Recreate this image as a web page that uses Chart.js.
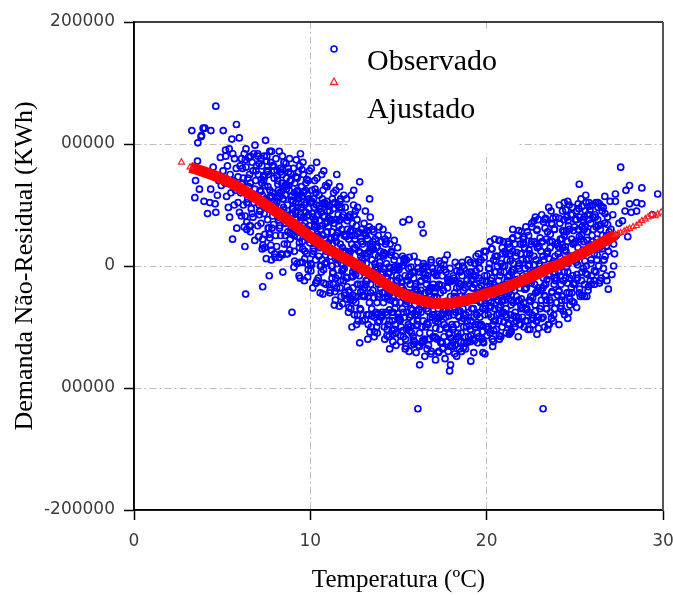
<!DOCTYPE html>
<html lang="pt">
<head>
    <meta charset="UTF-8">
    <title>Demanda Não-Residual vs Temperatura</title>
    <script src="https://cdn.jsdelivr.net/npm/chart.js@4.4.8/dist/chart.umd.min.js"></script>
    <style>
        html, body { margin: 0; padding: 0; background: #fff; }
        #grafico { display: block; }
    </style>
</head>
<body>

<canvas id="grafico" width="673" height="595"></canvas>

<script>

    // valores em milhares de kWh, [temperatura, demanda]
    const observado = [
        [3.28,111],[3.62,101],[3.83,107],[3.60,86],[3.49,70],[3.71,63],[3.45,56],[3.97,53],[3.92,113],[3.80,106],
        [4.02,113],[4.36,111],[4.30,52],[4.60,51],[4.17,43],[4.64,44],[4.73,58],[4.49,81],[4.64,131],[4.90,89],[4.35,63],[4.80,70],[4.55,75],[4.95,66],
        [5.06,111],[5.81,116],[5.55,104],[5.97,105],[5.19,95],[5.40,96],[5.20,90],[5.59,22],[5.83,31],[5.90,52],[5.98,44],[5.30,82],[5.45,75],[5.70,88],[5.15,68],[5.50,60],[5.65,70],[5.35,48],[5.80,80],[5.25,57],[5.75,62],[5.05,78],[5.60,92],[5.90,73],[5.42,40],[5.68,50],
        [6.35,96],[6.80,92],[6.86,99],[6.35,81],[6.75,78],[6.20,50],[6.30,41],[6.29,16],[6.40,30],[6.60,28],[6.40,36],[6.60,33],[6.33,-23],[6.10,88],[6.20,72],[6.50,65],[6.70,85],[6.90,70],[6.05,60],[6.45,55],[6.55,75],[6.95,58],[6.15,80],[6.65,47],[6.85,63],[6.25,92],[6.50,89],[6.75,40],[6.95,82],[6.10,67],[6.60,68],[6.80,52],
        [6.02,82],[6.09,41],[6.16,68],[6.25,32],[6.31,87],[6.40,52],[6.46,72],[6.55,33],[6.61,90],[6.70,43],[6.76,59],[6.85,21],[6.92,78],
        [7.46,103],[7.20,88],[7.70,94],[7.80,94],[7.30,-17],[7.67,-8],[7.50,6],[7.40,15],[7.80,13],[7.30,22],[7.70,23],[7.20,35],[7.05,75],[7.15,62],[7.25,82],[7.35,70],[7.45,55],[7.55,78],[7.60,65],[7.65,48],[7.75,85],[7.85,60],[7.95,72],[7.10,50],[7.38,90],[7.58,38],[7.88,45],[7.92,82],[7.12,45],[7.42,66],[7.52,86],[7.72,57],[7.82,31],[7.28,58],[7.62,75],[7.98,53],[7.02,92],
        [7.03,90],[7.11,42],[7.19,61],[7.27,14],[7.34,74],[7.42,26],[7.49,53],[7.57,77],[7.64,31],[7.71,62],[7.79,5],[7.86,41],[7.94,78],[7.07,24],[7.23,71],[7.38,43],[7.53,90],[7.68,26],[7.83,57],[7.97,10],
        [7.02,33],[7.09,84],[7.16,45],[7.25,68],[7.31,17],[7.40,73],[7.46,52],[7.55,78],[7.61,31],[7.70,56],[7.76,17],[7.85,82],[7.92,34],
        [8.00,7],[8.24,94],[8.05,88],[8.15,70],[8.25,60],[8.30,80],[8.35,45],[8.40,75],[8.45,55],[8.50,85],[8.55,65],[8.60,35],[8.65,72],[8.70,50],[8.75,80],[8.80,62],[8.85,42],[8.90,70],[8.95,57],[8.96,-38],[8.10,52],[8.20,40],[8.12,78],[8.32,25],[8.42,90],[8.52,18],[8.62,84],[8.72,28],[8.82,88],[8.92,32],[8.18,62],[8.38,68],[8.48,48],[8.58,58],[8.68,40],[8.78,66],[8.88,76],[8.98,47],[8.28,33],[8.44,-5],[8.66,10],[8.86,22],
        [8.03,25],[8.11,74],[8.19,38],[8.27,57],[8.34,10],[8.42,79],[8.49,46],[8.57,25],[8.64,63],[8.71,10],[8.79,39],[8.86,70],[8.94,26],[8.07,56],[8.23,7],[8.38,61],[8.53,38],[8.68,66],[8.83,13],[8.97,43],
        [8.02,50],[8.09,16],[8.16,67],[8.25,31],[8.31,77],[8.40,9],[8.46,55],[8.55,35],[8.61,67],[8.70,18],[8.76,77],[8.85,27],[8.92,54],
        [9.20,87],[9.05,80],[9.10,60],[9.15,45],[9.25,72],[9.30,30],[9.35,55],[9.40,82],[9.45,40],[9.50,65],[9.55,20],[9.60,75],[9.65,50],[9.70,35],[9.75,68],[9.80,10],[9.85,58],[9.90,42],[9.95,78],[9.08,25],[9.18,52],[9.28,62],[9.38,15],[9.48,48],[9.58,85],[9.68,28],[9.78,52],[9.88,70],[9.98,22],[9.12,68],[9.22,38],[9.32,77],[9.42,3],[9.52,57],[9.62,40],[9.72,62],[9.82,30],[9.92,55],[9.02,42],[9.36,-8],[9.66,-12],[9.88,-3],[9.44,92],[9.76,44],[9.26,48],[9.56,33],
        [9.03,47],[9.11,4],[9.19,73],[9.27,24],[9.34,56],[9.42,-10],[9.49,48],[9.57,14],[9.64,61],[9.71,25],[9.79,71],[9.86,1],[9.94,33],[9.07,-1],[9.23,61],[9.38,19],[9.53,79],[9.68,6],[9.83,41],[9.97,19],
        [9.02,53],[9.09,12],[9.16,38],[9.25,2],[9.31,58],[9.40,23],[9.46,42],[9.55,3],[9.61,60],[9.70,12],[9.76,29],[9.85,-9],[9.92,47],
        [10.05,80],[10.10,62],[10.15,40],[10.20,20],[10.25,70],[10.30,5],[10.35,50],[10.40,32],[10.45,-10],[10.50,58],[10.55,15],[10.60,44],[10.65,75],[10.70,25],[10.75,-3],[10.80,52],[10.85,35],[10.90,12],[10.95,65],[10.08,28],[10.18,55],[10.28,38],[10.38,72],[10.48,8],[10.58,30],[10.68,55],[10.78,40],[10.88,-15],[10.98,45],[10.12,10],[10.22,48],[10.32,60],[10.42,18],[10.52,37],[10.62,-5],[10.72,62],[10.82,22],[10.92,50],[10.02,52],[10.14,-18],[10.36,85],[10.56,-22],[10.76,78],[10.96,28],[10.46,42],[10.66,5],[10.86,66],[10.26,34],[10.44,24],[10.84,2],
        [10.03,-4],[10.11,43],[10.19,12],[10.27,63],[10.34,-14],[10.42,26],[10.49,49],[10.57,0],[10.64,33],[10.71,-23],[10.79,41],[10.86,9],[10.94,53],[10.07,1],[10.23,32],[10.38,-12],[10.53,23],[10.68,51],[10.83,2],[10.97,36],
        [10.02,2],[10.09,53],[10.16,14],[10.25,37],[10.31,-14],[10.40,42],[10.46,21],[10.55,47],[10.61,0],[10.70,25],[10.76,-14],[10.85,51],[10.92,3],
        [11.05,68],[11.10,45],[11.15,22],[11.20,0],[11.25,55],[11.30,-15],[11.35,35],[11.40,10],[11.45,62],[11.50,75],[11.55,28],[11.60,-8],[11.65,48],[11.70,18],[11.75,-25],[11.80,40],[11.85,5],[11.90,58],[11.95,25],[11.08,15],[11.18,38],[11.28,-5],[11.38,52],[11.48,20],[11.58,42],[11.68,-18],[11.78,30],[11.88,-12],[11.98,48],[11.12,-20],[11.22,28],[11.32,60],[11.42,-28],[11.52,8],[11.62,33],[11.72,55],[11.82,15],[11.92,-2],[11.02,32],[11.16,8],[11.36,-32],[11.56,50],[11.76,2],[11.96,-22],[11.46,38],[11.66,65],[11.86,42],[11.26,18],[11.44,-10],[11.94,12],
        [11.03,39],[11.11,-22],[11.19,23],[11.27,-6],[11.34,51],[11.42,6],[11.49,-18],[11.57,27],[11.64,-33],[11.71,38],[11.79,-4],[11.86,12],[11.94,-24],[11.07,49],[11.23,-10],[11.38,23],[11.53,2],[11.68,53],[11.83,-31],[11.97,26],
        [11.02,19],[11.09,-15],[11.16,37],[11.25,0],[11.31,47],[11.40,-21],[11.46,25],[11.55,5],[11.61,37],[11.70,-12],[11.76,48],[11.85,-3],[11.92,25],
        [12.05,55],[12.10,30],[12.15,5],[12.20,-20],[12.25,42],[12.30,-35],[12.35,18],[12.40,-8],[12.45,50],[12.50,-40],[12.55,25],[12.60,0],[12.65,38],[12.70,-25],[12.75,12],[12.80,69],[12.80,-63],[12.85,-15],[12.90,30],[12.95,-45],[12.08,-10],[12.18,22],[12.28,-28],[12.38,35],[12.48,-2],[12.58,-30],[12.68,48],[12.78,-8],[12.88,20],[12.98,-20],[12.12,40],[12.22,8],[12.32,58],[12.42,-18],[12.52,15],[12.62,-48],[12.72,28],[12.82,-35],[12.92,5],[12.02,12],[12.16,-38],[12.36,-50],[12.56,45],[12.76,-2],[12.96,18],[12.46,62],[12.66,-15],[12.86,8],[12.26,28],[12.44,-28],
        [12.03,-9],[12.11,37],[12.19,-34],[12.27,12],[12.34,25],[12.42,-24],[12.49,42],[12.57,-7],[12.64,17],[12.71,-45],[12.79,27],[12.86,-21],[12.94,2],[12.07,-27],[12.23,40],[12.38,-9],[12.53,22],[12.68,-40],[12.83,11],[12.97,-24],
        [12.02,24],[12.09,-17],[12.16,10],[12.25,-26],[12.31,29],[12.40,-5],[12.46,14],[12.55,-25],[12.61,33],[12.70,-15],[12.76,2],[12.85,-36],[12.92,20],
        [13.05,35],[13.10,10],[13.15,-15],[13.20,-40],[13.25,22],[13.30,-5],[13.35,-30],[13.40,40],[13.45,-50],[13.50,5],[13.55,-20],[13.60,28],[13.65,-42],[13.70,-8],[13.75,15],[13.80,-55],[13.85,-25],[13.90,32],[13.95,0],[13.08,-25],[13.18,2],[13.28,-48],[13.38,18],[13.48,-35],[13.58,-10],[13.68,22],[13.78,-30],[13.88,8],[13.98,-18],[13.12,45],[13.22,-12],[13.32,12],[13.42,-22],[13.52,30],[13.62,-58],[13.72,-38],[13.82,-2],[13.92,-45],[13.02,-5],[13.26,-60],[13.46,15],[13.66,2],[13.86,-15],[13.36,55],[13.76,-50],[13.16,25],
        [13.03,27],[13.11,-44],[13.19,8],[13.27,-25],[13.34,32],[13.42,-15],[13.49,-41],[13.57,14],[13.64,-54],[13.71,-3],[13.79,16],[13.86,-39],[13.94,3],[13.07,-18],[13.23,29],[13.38,-54],[13.53,-6],[13.68,9],[13.83,-46],[13.97,12],
        [13.02,-25],[13.09,27],[13.16,-12],[13.25,10],[13.31,-40],[13.40,16],[13.46,-5],[13.55,20],[13.61,-26],[13.70,-1],[13.76,-40],[13.85,25],[13.92,-23],
        [14.05,20],[14.10,-5],[14.15,-30],[14.20,-50],[14.25,10],[14.30,-15],[14.35,-40],[14.40,25],[14.45,-58],[14.50,-68],[14.50,-5],[14.55,-28],[14.60,12],[14.65,-45],[14.70,-18],[14.75,5],[14.80,-35],[14.85,-55],[14.90,-8],[14.95,15],[14.08,-22],[14.18,-2],[14.28,-38],[14.38,-10],[14.48,-45],[14.58,-20],[14.68,-62],[14.78,-30],[14.88,-12],[14.98,-42],[14.12,30],[14.22,-60],[14.32,2],[14.42,-25],[14.52,18],[14.62,-38],[14.72,-3],[14.82,-48],[14.92,-22],[14.02,-40],[14.16,8],[14.36,-52],[14.56,-12],[14.76,-52],[14.96,0],[14.66,-25],
        [14.03,-42],[14.11,9],[14.19,-22],[14.27,18],[14.34,-57],[14.42,-6],[14.49,-36],[14.57,9],[14.64,-53],[14.71,-16],[14.79,-1],[14.86,-65],[14.94,-12],[14.07,-38],[14.23,22],[14.38,-27],[14.53,-2],[14.68,-56],[14.83,8],[14.97,-39],
        [14.02,-7],[14.09,-41],[14.16,11],[14.25,-26],[14.31,20],[14.40,-48],[14.46,-1],[14.55,-22],[14.61,11],[14.70,-38],[14.76,21],[14.85,-30],[14.92,-2],
        [15.25,36],[15.60,38],[15.60,-70],[15.05,-10],[15.10,-30],[15.15,-50],[15.20,0],[15.30,-20],[15.35,-42],[15.40,-60],[15.45,5],[15.50,-25],[15.55,-48],[15.65,-15],[15.70,-35],[15.75,-55],[15.80,-5],[15.85,-28],[15.90,-62],[15.95,-40],[15.08,-45],[15.18,-18],[15.28,-58],[15.38,-8],[15.48,-38],[15.58,-2],[15.68,-50],[15.78,-22],[15.88,8],[15.98,-15],[15.12,-62],[15.22,-35],[15.32,6],[15.42,-28],[15.52,-12],[15.62,-42],[15.72,-65],[15.82,-45],[15.92,-32],[15.02,-25],[15.46,-52],[15.86,-10],
        [15.03,-1],[15.11,-57],[15.19,-17],[15.27,-38],[15.34,5],[15.42,-66],[15.49,-29],[15.57,-9],[15.64,-53],[15.71,-1],[15.79,-36],[15.86,-64],[15.94,-17],[15.07,-43],[15.23,8],[15.38,-68],[15.53,-22],[15.68,-7],[15.83,-58],[15.97,-19],
        [15.02,-3],[15.09,-44],[15.16,-17],[15.25,-53],[15.31,3],[15.40,-31],[15.46,-12],[15.55,-50],[15.61,7],[15.70,-40],[15.76,-24],[15.85,-61],[15.92,-5],
        [16.10,-117],[16.30,34],[16.40,27],[16.20,-81],[16.00,-71],[16.05,-20],[16.10,-40],[16.15,-5],[16.20,-55],[16.25,-30],[16.30,-12],[16.35,-62],[16.40,-45],[16.45,0],[16.50,-22],[16.55,-50],[16.60,-35],[16.65,-8],[16.70,-65],[16.75,-28],[16.80,-42],[16.85,3],[16.90,-18],[16.95,-58],[16.08,-48],[16.18,-25],[16.28,-38],[16.38,-2],[16.48,-60],[16.58,-15],[16.68,-48],[16.78,-55],[16.88,-32],[16.98,-5],[16.12,-65],[16.32,-50],[16.52,-10],[16.72,-20],[16.92,-40],[16.42,-32],[16.62,-68],[16.82,-25],
        [16.03,-37],[16.11,-2],[16.19,-66],[16.27,-20],[16.34,-50],[16.42,2],[16.49,-74],[16.57,-29],[16.64,-11],[16.71,-60],[16.79,-18],[16.86,-70],[16.94,-2],[16.07,-45],[16.23,-23],[16.38,-61],[16.53,-7],[16.68,-37],[16.83,-72],[16.97,-15],
        [16.02,-49],[16.09,3],[16.16,-36],[16.25,-13],[16.31,-63],[16.40,-6],[16.46,-27],[16.55,-1],[16.61,-47],[16.70,-21],[16.76,-60],[16.85,5],[16.92,-42],
        [17.10,-77],[17.90,-86],[17.95,-81],[17.05,-25],[17.10,-45],[17.15,-8],[17.20,-60],[17.25,-35],[17.30,-15],[17.35,-52],[17.40,2],[17.45,-40],[17.50,-68],[17.55,-20],[17.60,-48],[17.65,-30],[17.70,-5],[17.75,-62],[17.80,-38],[17.85,-12],[17.90,-55],[17.95,-25],[17.08,-58],[17.18,-30],[17.28,-70],[17.38,-22],[17.48,-8],[17.58,-58],[17.68,-42],[17.78,-18],[17.88,-35],[17.98,-65],[17.12,-18],[17.22,-2],[17.32,-42],[17.42,-62],[17.52,-32],[17.62,5],[17.72,-50],[17.82,-70],[17.92,-2],[17.02,-40],
        [17.03,-6],[17.11,-51],[17.19,-26],[17.27,-71],[17.34,-16],[17.42,-41],[17.49,-63],[17.57,1],[17.64,-76],[17.71,-29],[17.79,-11],[17.86,-56],[17.94,-66],[17.07,-21],[17.23,-46],[17.38,-3],[17.53,-67],[17.68,-36],[17.83,-13],[17.97,-59],
        [17.02,-26],[17.09,-59],[17.16,-7],[17.25,-43],[17.31,4],[17.40,-63],[17.46,-16],[17.55,-36],[17.61,-3],[17.70,-51],[17.76,9],[17.85,-41],[17.92,-13],
        [18.30,-74],[18.05,-30],[18.10,-50],[18.15,-10],[18.20,-65],[18.25,-38],[18.30,-18],[18.35,-55],[18.40,0],[18.45,-42],[18.50,-25],[18.55,-62],[18.60,-8],[18.65,-35],[18.70,-50],[18.75,-15],[18.80,-68],[18.85,-28],[18.90,-45],[18.95,5],[18.08,-62],[18.18,-22],[18.28,-48],[18.38,-32],[18.48,-5],[18.58,-45],[18.68,-20],[18.78,-58],[18.88,-12],[18.98,-38],[18.12,-40],[18.22,3],[18.42,-58],[18.52,-15],[18.62,-30],[18.72,-2],[18.82,-40],[18.92,-62],[18.02,-12],[18.46,-68],
        [18.03,-48],[18.11,-8],[18.19,-72],[18.27,-25],[18.34,-58],[18.42,-14],[18.49,-37],[18.57,-70],[18.64,0],[18.71,-63],[18.79,-18],[18.86,-50],[18.94,-26],[18.07,-66],[18.23,-12],[18.38,-41],[18.53,-4],[18.68,-67],[18.83,-30],[18.97,-58],
        [18.02,-12],[18.09,-52],[18.16,-25],[18.25,-60],[18.31,-4],[18.40,-37],[18.46,-17],[18.55,-55],[18.61,3],[18.70,-43],[18.76,-26],[18.85,-63],[18.92,-6],
        [19.10,-78],[19.90,-72],[19.05,-25],[19.10,-45],[19.15,-5],[19.20,-60],[19.25,-35],[19.30,-15],[19.35,-50],[19.40,8],[19.45,-40],[19.50,-22],[19.55,-58],[19.60,-2],[19.65,-30],[19.70,-48],[19.75,-12],[19.80,-62],[19.85,-25],[19.90,-40],[19.95,12],[19.08,-52],[19.18,-28],[19.28,-42],[19.38,-8],[19.48,-55],[19.58,-18],[19.68,5],[19.78,-35],[19.88,-8],[19.98,-50],[19.12,-12],[19.22,-18],[19.32,2],[19.42,-28],[19.52,-48],[19.62,-38],[19.72,-60],[19.82,-20],[19.92,-30],
        [19.03,-5],[19.11,-57],[19.19,-18],[19.27,-71],[19.34,2],[19.42,-40],[19.49,-63],[19.57,-10],[19.64,-49],[19.71,-22],[19.79,-71],[19.86,7],[19.94,-33],[19.07,-62],[19.23,-8],[19.38,-48],[19.53,10],[19.68,-29],[19.83,-63],[19.97,-13],
        [19.02,-49],[19.09,3],[19.16,-35],[19.25,-11],[19.31,-61],[19.40,-4],[19.46,-23],[19.55,3],[19.61,-42],[19.70,-16],[19.76,-54],[19.85,12],[19.92,-35],
        [20.20,20],[20.70,21],[20.45,22],[20.05,-20],[20.10,-40],[20.15,-2],[20.20,-55],[20.25,-30],[20.30,-10],[20.35,-48],[20.40,5],[20.45,-35],[20.50,-18],[20.55,-52],[20.60,0],[20.65,-28],[20.70,-45],[20.75,-8],[20.80,-58],[20.85,-22],[20.90,10],[20.95,-38],[20.08,-50],[20.18,-15],[20.28,-42],[20.38,-25],[20.48,8],[20.58,-40],[20.68,-12],[20.78,-32],[20.88,-50],[20.98,-5],[20.12,-28],[20.32,-60],[20.52,-5],[20.62,-18],[20.72,-60],[20.82,2],[20.92,-28],[20.02,-8],[20.42,-45],[20.88,15],
        [20.03,-57],[20.11,-2],[20.19,-34],[20.27,14],[20.34,-66],[20.42,-16],[20.49,-45],[20.57,8],[20.64,-28],[20.71,-57],[20.79,-5],[20.86,-39],[20.94,20],[20.07,-52],[20.23,-12],[20.38,-62],[20.53,4],[20.68,-34],[20.83,-17],[20.97,-46],
        [20.02,-17],[20.09,-50],[20.16,2],[20.25,-33],[20.31,14],[20.40,-53],[20.46,-5],[20.55,-25],[20.61,8],[20.70,-39],[20.76,21],[20.85,-29],[20.92,0],
        [21.10,-55],[21.40,-53],[21.05,-15],[21.10,-35],[21.15,5],[21.20,-48],[21.25,-22],[21.30,15],[21.35,-40],[21.40,-5],[21.45,22],[21.50,-30],[21.55,-12],[21.60,-50],[21.65,8],[21.70,-25],[21.75,25],[21.80,-42],[21.85,-2],[21.90,18],[21.95,-35],[21.08,10],[21.18,-25],[21.28,-8],[21.38,-32],[21.48,12],[21.58,-20],[21.68,-45],[21.78,0],[21.88,-18],[21.98,28],[21.12,-42],[21.22,20],[21.32,-55],[21.42,-18],[21.52,2],[21.62,-38],[21.72,-8],[21.82,-28],[21.92,-48],[21.02,-28],[21.48,30],
        [21.03,12],[21.11,-42],[21.19,-9],[21.27,-56],[21.34,4],[21.42,-28],[21.49,23],[21.57,-47],[21.64,-12],[21.71,11],[21.79,-58],[21.86,2],[21.94,-32],[21.07,-23],[21.23,18],[21.38,-54],[21.53,-3],[21.68,-42],[21.83,29],[21.97,-27],
        [21.02,0],[21.09,-40],[21.16,-12],[21.25,-47],[21.31,10],[21.40,-24],[21.46,-3],[21.55,-41],[21.61,18],[21.70,-29],[21.76,-11],[21.85,-48],[21.92,10],
        [22.85,-56],[22.05,-8],[22.10,-30],[22.15,15],[22.20,-45],[22.25,-18],[22.30,28],[22.35,0],[22.40,-38],[22.45,10],[22.50,-25],[22.55,35],[22.60,-10],[22.65,-48],[22.70,20],[22.75,-32],[22.80,5],[22.85,30],[22.90,-20],[22.95,-42],[22.08,22],[22.18,-2],[22.28,-35],[22.38,25],[22.48,-12],[22.58,-40],[22.68,8],[22.78,-22],[22.88,15],[22.98,2],[22.12,-50],[22.22,32],[22.32,-12],[22.42,-28],[22.52,18],[22.62,-5],[22.72,-15],[22.82,-45],[22.92,38],[22.02,5],[22.46,-52],[22.76,40],
        [22.03,-42],[22.11,24],[22.19,-19],[22.27,10],[22.34,-52],[22.42,1],[22.49,-29],[22.57,32],[22.64,-43],[22.71,-5],[22.79,18],[22.86,-21],[22.94,-51],[22.07,18],[22.23,-36],[22.38,6],[22.53,-14],[22.68,37],[22.83,-45],[22.97,16],
        [22.02,-34],[22.09,19],[22.16,-19],[22.25,5],[22.31,-45],[22.40,13],[22.46,-7],[22.55,20],[22.61,-26],[22.70,1],[22.76,-37],[22.85,29],[22.92,-18],
        [23.20,-117],[23.05,-5],[23.10,-28],[23.15,20],[23.20,-42],[23.25,5],[23.30,38],[23.35,-15],[23.40,-35],[23.45,28],[23.50,-8],[23.55,-48],[23.60,15],[23.65,45],[23.70,-22],[23.75,2],[23.80,-40],[23.85,30],[23.90,-12],[23.95,-30],[23.08,12],[23.18,-18],[23.28,-50],[23.38,22],[23.48,-2],[23.58,-28],[23.68,35],[23.78,-45],[23.88,8],[23.98,18],[23.12,42],[23.22,-10],[23.32,-25],[23.42,10],[23.52,48],[23.62,-38],[23.72,20],[23.82,-15],[23.92,40],[23.02,-35],[23.46,-52],[23.86,-5],
        [23.03,23],[23.11,-43],[23.19,8],[23.27,-24],[23.34,39],[23.42,-11],[23.49,-48],[23.57,20],[23.64,-30],[23.71,34],[23.79,4],[23.86,-35],[23.94,18],[23.07,-20],[23.23,36],[23.38,-28],[23.53,6],[23.68,-43],[23.83,30],[23.97,-10],
        [23.02,0],[23.09,-33],[23.16,20],[23.25,-16],[23.31,31],[23.40,-35],[23.46,12],[23.55,-7],[23.61,26],[23.70,-21],[23.76,39],[23.85,-10],[23.92,18],
        [24.10,-48],[24.60,-43],[24.60,53],[24.40,52],[24.05,10],[24.10,-20],[24.15,35],[24.20,-35],[24.25,0],[24.30,45],[24.35,-12],[24.40,25],[24.45,-28],[24.50,12],[24.55,40],[24.60,-5],[24.65,-38],[24.70,30],[24.75,5],[24.80,-18],[24.85,48],[24.90,18],[24.95,-30],[24.08,-5],[24.18,22],[24.28,-25],[24.38,38],[24.48,-10],[24.58,20],[24.68,-22],[24.78,42],[24.88,-8],[24.98,32],[24.12,50],[24.22,-15],[24.32,15],[24.42,-40],[24.52,28],[24.62,2],[24.72,-32],[24.82,22],[24.92,-15],
        [24.03,-24],[24.11,39],[24.19,-8],[24.27,22],[24.34,-37],[24.42,13],[24.49,46],[24.57,-14],[24.64,33],[24.71,-27],[24.79,8],[24.86,42],[24.94,-15],[24.07,16],[24.23,-33],[24.38,28],[24.53,-1],[24.68,50],[24.83,-22],[24.97,19],
        [24.02,19],[24.09,-21],[24.16,7],[24.25,-28],[24.31,29],[24.40,-5],[24.46,16],[24.55,-22],[24.61,37],[24.70,-10],[24.76,8],[24.85,-29],[24.92,29],
        [25.25,67],[25.10,-34],[25.55,-25],[25.40,49],[25.05,20],[25.10,45],[25.15,-10],[25.20,30],[25.25,-22],[25.30,10],[25.35,55],[25.40,-5],[25.45,38],[25.50,20],[25.55,-15],[25.60,45],[25.65,0],[25.70,28],[25.75,-20],[25.80,52],[25.85,15],[25.90,35],[25.95,-8],[25.08,5],[25.28,40],[25.38,25],[25.48,-2],[25.58,32],[25.68,12],[25.78,38],[25.88,-12],[25.98,25],[25.18,15],[25.62,58],[25.72,42],[25.92,5],
        [25.03,38],[25.11,-7],[25.19,51],[25.27,-19],[25.34,22],[25.42,-24],[25.49,36],[25.57,4],[25.64,52],[25.71,-7],[25.79,18],[25.86,46],[25.94,-15],[25.07,3],[25.23,47],[25.38,-12],[25.53,30],[25.68,-25],[25.83,42],[25.97,17],
        [25.02,-14],[25.09,38],[25.16,1],[25.25,24],[25.31,-25],[25.40,32],[25.46,13],[25.55,40],[25.61,-6],[25.70,21],[25.76,-17],[25.85,49],[25.92,2],
        [26.00,50],[26.40,51],[26.70,57],[26.90,-19],[26.05,30],[26.10,10],[26.15,42],[26.20,-5],[26.25,22],[26.30,38],[26.35,0],[26.40,15],[26.45,30],[26.50,-10],[26.55,45],[26.60,20],[26.65,5],[26.70,35],[26.75,-8],[26.80,25],[26.85,40],[26.90,12],[26.95,28],[26.12,-15],[26.32,48],[26.52,18],[26.72,8],[26.22,32],[26.62,-2],[26.82,-12],
        [26.03,40],[26.11,-4],[26.19,52],[26.27,9],[26.34,33],[26.42,-12],[26.49,49],[26.57,25],[26.64,5],[26.71,43],[26.79,16],[26.86,34],
        [26.02,20],[26.09,-12],[26.16,40],[26.25,5],[26.31,52],[26.40,-14],[26.46,34],[26.55,14],[26.61,48],
        [27.60,81],[27.30,59],[27.30,53],[27.70,37],[27.20,18],[27.20,0],[27.10,-7],[27.05,30],[27.15,42],[27.35,25],[27.50,35],[27.25,10],[27.85,45],[27.00,53],
        [27.90,62],[28.10,66],[28.80,64],[29.70,59],[28.10,51],[28.50,52],[28.80,51],[28.20,44],[28.50,45],[29.40,42],[28.00,24]
    ]

    // curva ajustada, mesmas unidades
    const ajustado = [
        [2.69,85],[3.18,81],[3.6,79],[4.0,77],[4.5,74.5],[5.0,71.5],[5.5,68],[6.0,64],[6.5,59.5],[7.0,55],
        [7.5,50],[8.0,45],[8.5,40],[9.0,35],[9.5,29.5],[10.0,24],[10.5,19],[11.0,14],[11.5,10],[12.0,6],
        [12.5,2],[13.0,-2.5],[13.5,-7],[14.0,-12],[14.5,-17],[15.0,-21],[15.5,-24.5],[16.0,-27],[16.5,-29],[17.0,-30.5],
        [17.5,-31],[18.0,-30.5],[18.5,-29],[19.0,-27.5],[19.5,-25],[20.0,-22.5],[20.5,-20.5],[21.0,-18],[21.5,-15],[22.0,-12],
        [22.5,-9],[23.0,-5.5],[23.5,-2],[24.0,0.5],[24.5,4],[25.0,7.5],[25.5,11],[26.0,15],[26.5,19],[27.0,23],
        [27.3,25.5],[27.45,26.5],[27.6,27.3],[27.8,28.5],[27.95,29.5],[28.1,30.6],[28.3,32],[28.5,33],[28.65,35],[28.8,37],
        [29.0,38.5],[29.15,40],[29.35,42],[29.55,41],[29.7,42.5],[29.9,44]
    ]
    const inicioFaixa = 3.18
    const fimFaixa = 27.3

    const xTicks = [0, 10, 20, 30]
    const yTicks = [-200000, -100000, 0, 100000, 200000]
    const yTickLabels = ['-200000', '00000', '0', '00000', '200000']

    const tickFont = { family: 'DejaVu Sans', size: 17 }
    const serif = 'Liberation Serif'
    const gridColor = '#bdbdbd'

    const toPoints = arr => arr.map(p => ({ x: p[0], y: p[1] * 1000 }))

    const interior = (ctx, ticks) => {
        const v = ctx.tick ? ctx.tick.value : null
        return v !== null && v !== ticks[0] && v !== ticks[ticks.length - 1]
    }

    // segmento faz parte da faixa vermelha continua?
    const segmentoNaFaixa = c => {
        const a = ajustado[c.p0DataIndex], b = ajustado[c.p1DataIndex]
        return a && b && a[0] >= inicioFaixa && b[0] <= fimFaixa
    }
    const pontoNaFaixa = c => {
        const p = ajustado[c.dataIndex]
        return p && p[0] > inicioFaixa && p[0] < fimFaixa
    }

    // caixa da legenda dentro do grafico (estilo R)
    const legendaPlugin = {
        id: 'legendaR',
        beforeDatasetsDraw(chart) {
            const ctx = chart.ctx
            ctx.save()
            ctx.fillStyle = '#fff'
            ctx.fillRect(347, 32, 170, 121)
            ctx.restore()
        },
        afterDatasetsDraw(chart) {
            const ctx = chart.ctx
            const ds = chart.data.datasets
            ctx.save()
            // circulo
            ctx.strokeStyle = ds[1].borderColor
            ctx.lineWidth = 1.6
            ctx.beginPath()
            ctx.arc(334, 49, 3, 0, Math.PI * 2)
            ctx.stroke()
            // triangulo
            ctx.strokeStyle = ds[0].pointBorderColor
            ctx.lineWidth = 1.3
            ctx.beginPath()
            ctx.moveTo(334, 78)
            ctx.lineTo(337.5, 84.5)
            ctx.lineTo(330.5, 84.5)
            ctx.closePath()
            ctx.stroke()
            ctx.fillStyle = '#000'
            ctx.font = '30px "' + serif + '"'
            ctx.textBaseline = 'alphabetic'
            ctx.fillText(ds[1].label, 367, 70)
            ctx.fillText(ds[0].label, 367, 118)
            ctx.restore()
        },
        afterDraw(chart) {
            const { left, right, top, bottom } = chart.chartArea
            const ctx = chart.ctx
            ctx.save()
            ctx.lineWidth = 1.6
            ctx.strokeStyle = '#000'
            ctx.beginPath()
            ctx.moveTo(left, top)
            ctx.lineTo(right, top)
            ctx.moveTo(left, top)
            ctx.lineTo(left, bottom)
            ctx.lineTo(right, bottom)
            ctx.stroke()
            ctx.strokeStyle = '#555'
            ctx.lineWidth = 2
            ctx.beginPath()
            ctx.moveTo(right, top)
            ctx.lineTo(right, bottom)
            ctx.stroke()
            ctx.restore()
        }
    }

    const chart = new Chart(document.getElementById('grafico'), {
        type: 'scatter',
        data: {
            datasets: [
                {
                    label: 'Ajustado',
                    data: toPoints(ajustado),
                    order: 1,
                    showLine: true,
                    borderColor: '#ff0000',
                    borderWidth: 11,
                    segment: {
                        borderColor: c => segmentoNaFaixa(c) ? '#ff0000' : 'rgba(0,0,0,0)'
                    },
                    pointStyle: 'triangle',
                    pointRadius: c => pontoNaFaixa(c) ? 0 : 3.5,
                    pointBorderWidth: 1.2,
                    pointBorderColor: '#ff2020',
                    pointBackgroundColor: 'rgba(0,0,0,0)'
                },
                {
                    label: 'Observado',
                    data: toPoints(observado),
                    order: 2,
                    pointStyle: 'circle',
                    pointRadius: 3,
                    borderWidth: 1.7,
                    borderColor: '#0000ff',
                    backgroundColor: 'rgba(0,0,0,0)'
                }
            ]
        },
        options: {
            responsive: false,
            animation: false,
            layout: { padding: { top: 22, right: 10, left: 0, bottom: 0 } },
            plugins: {
                legend: { display: false },
                tooltip: { enabled: false }
            },
            scales: {
                x: {
                    type: 'linear',
                    min: 0,
                    max: 30,
                    afterBuildTicks: s => { s.ticks = xTicks.map(v => ({ value: v })) },
                    afterFit: s => { s.height = 85; s.paddingLeft = 0; s.paddingRight = 0 },
                    ticks: { font: tickFont, color: '#3c3c3c', padding: 11, maxRotation: 0 },
                    grid: {
                        color: c => interior(c, xTicks) ? gridColor : 'rgba(0,0,0,0)',
                        tickColor: '#000',
                        tickLength: 10,
                        tickWidth: 1.5
                    },
                    border: { display: true, color: '#000', width: 1.6, dash: [7, 3, 2, 3] },
                    title: {
                        display: true,
                        text: 'Temperatura (ºC)',
                        color: '#000',
                        font: { family: serif, size: 25 },
                        padding: { top: 0, bottom: 0 }
                    }
                },
                y: {
                    type: 'linear',
                    min: -200000,
                    max: 200000,
                    afterBuildTicks: s => { s.ticks = yTicks.map(v => ({ value: v })) },
                    afterFit: s => { s.width = 134; s.paddingTop = 0; s.paddingBottom = 0 },
                    ticks: {
                        font: tickFont,
                        color: '#3c3c3c',
                        padding: 9,
                        callback: v => yTickLabels[yTicks.indexOf(v)]
                    },
                    grid: {
                        color: c => interior(c, yTicks) ? gridColor : 'rgba(0,0,0,0)',
                        tickColor: '#000',
                        tickLength: 10,
                        tickWidth: 1.5
                    },
                    border: { display: true, color: '#000', width: 1.6, dash: [7, 3, 2, 3] },
                    title: {
                        display: true,
                        text: 'Demanda Não-Residual (KWh)',
                        color: '#000',
                        font: { family: serif, size: 26 },
                        padding: { top: 10, bottom: 0 }
                    }
                }
            }
        },
        plugins: [legendaPlugin]
    });

</script>
</body>
</html>
